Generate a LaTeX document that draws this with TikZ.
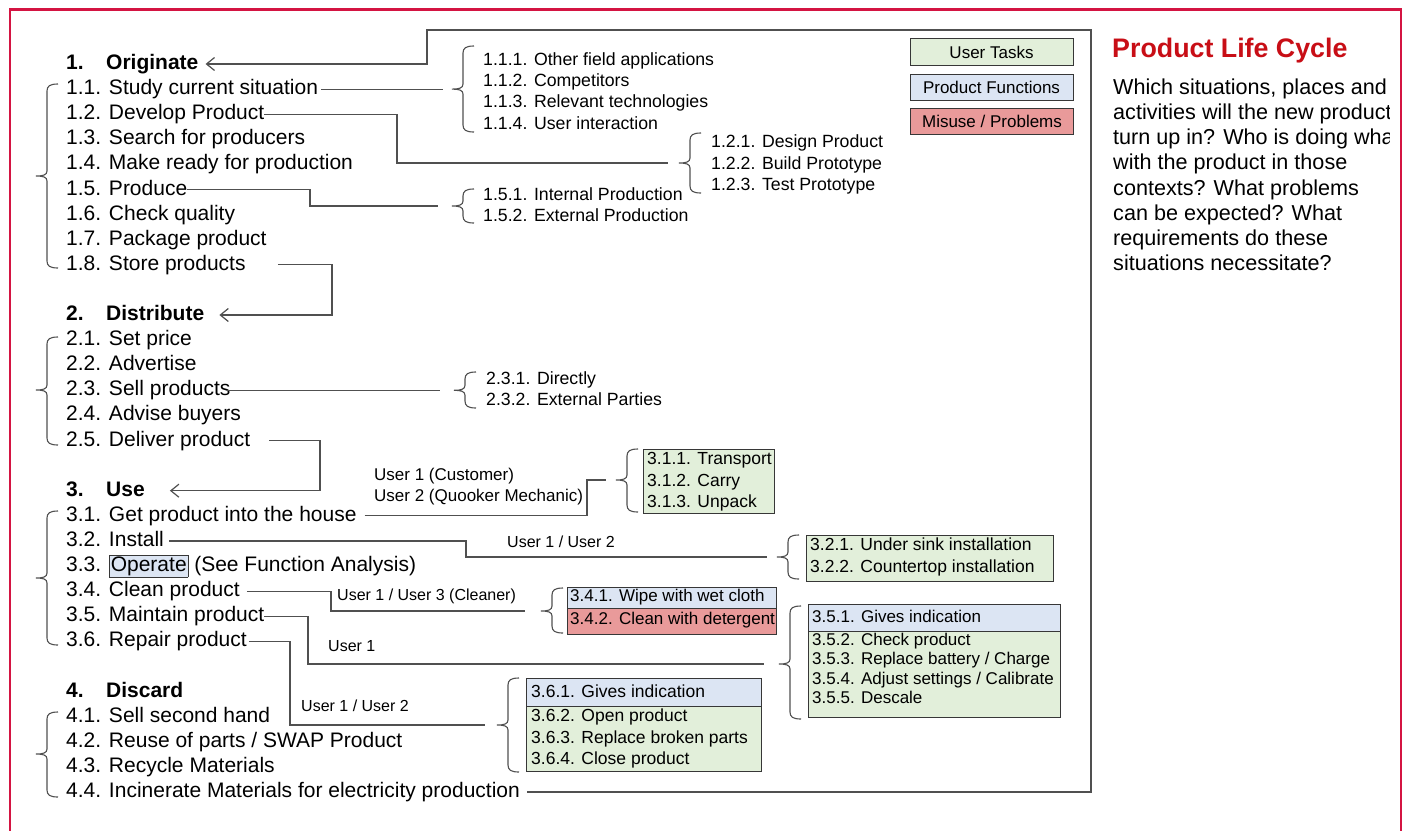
\documentclass[tikz,border=0pt]{standalone}
\usepackage{fontspec}
\setmainfont{Liberation Sans}
\usetikzlibrary{arrows.meta}
\definecolor{framered}{RGB}{212,20,66}
\definecolor{titlered}{RGB}{200,14,22}
\definecolor{gfill}{HTML}{E2EFDA}
\definecolor{bfill}{HTML}{DCE5F3}
\definecolor{rfill}{HTML}{E99A9A}
\definecolor{lncol}{RGB}{80,80,80}
\definecolor{bxcol}{RGB}{55,55,55}
\setlength\fboxsep{1pt}
\setlength\fboxrule{0.8pt}
\newcommand\mybrace[4]{\draw[brc] (#1+11,#2) .. controls (#1+3,#2) and (#1,#2+2) .. (#1,#2+7) -- (#1,#4-5) .. controls (#1,#4-1) and (#1-4,#4) .. (#1-11,#4) .. controls (#1-4,#4) and (#1,#4+1) .. (#1,#4+5) -- (#1,#3-7) .. controls (#1,#3-2) and (#1+3,#3) .. (#1+11,#3);}
\begin{document}
\begin{tikzpicture}[x=1pt,y=-1pt,
 item/.style={anchor=west, inner sep=0pt, font=\fontsize{21}{25}\selectfont, text height=15pt, text depth=4pt},
 headitem/.style={item, font=\fontsize{21}{25}\selectfont\bfseries},
 paraitem/.style={item, font=\fontsize{21.6}{25}\selectfont},
 subitem/.style={anchor=west, inner sep=0pt, font=\fontsize{17.7}{21}\selectfont, text height=12.7pt, text depth=3.5pt},
 boxitem/.style={subitem, font=\fontsize{17.5}{21}\selectfont},
 smallitem/.style={subitem, font=\fontsize{17}{20}\selectfont, text height=12.2pt, text depth=3.3pt},
 userlbl/.style={subitem, font=\fontsize{16}{19}\selectfont, text height=11.5pt, text depth=3.2pt},
 conn/.style={draw=lncol, line width=1.2pt},
 arr/.style={conn, -{Straight Barb[length=8pt,width=13pt]}},
 brc/.style={draw=lncol, line width=1.1pt},
 panel/.style={draw=bxcol, line width=1pt, anchor=north west, inner sep=0pt},
 gpanel/.style={panel, fill=gfill},
 bpanel/.style={panel, fill=bfill},
 rpanel/.style={panel, fill=rfill},
 legend/.style={draw=bxcol, line width=1pt, inner sep=0pt, minimum width=163pt, minimum height=26.5pt, font=\fontsize{17}{20}\selectfont}
]
\useasboundingbox (0,0) rectangle (1407,830);
\fill[white] (0,0) rectangle (1407,830);

% outer frame
\draw[framered, line width=2.6pt] (10,845) -- (10,9.5) -- (1401,9.5) -- (1401,845);

% legend
\node[legend, fill=gfill] (leg1) at (991.5,52) {User Tasks};
\node[legend, fill=bfill] (leg2) at (991.5,87.5) {Product Functions};
\node[legend, fill=rfill] (leg3) at (992,121.5) {Misuse / Problems};

% title and paragraph
\node[anchor=base west, inner sep=0pt, font=\fontsize{26.8}{30}\selectfont\bfseries, text=titlered] (title) at (1112,57) {Product Life Cycle};
\begin{scope}
\clip (1100,70) rectangle (1389,290);
\node[paraitem] (p1) at (1113,89.1) {Which situations, places and};
\node[paraitem] (p2) at (1113,114.2) {activities will the new product};
\node[paraitem] (p3) at (1113,139.3) {turn up in? Who is doing what};
\node[paraitem] (p4) at (1113,164.4) {with the product in those};
\node[paraitem] (p5) at (1113,189.5) {contexts? What problems};
\node[paraitem] (p6) at (1113,214.6) {can be expected? What};
\node[paraitem] (p7) at (1113,239.7) {requirements do these};
\node[paraitem] (p8) at (1113,264.8) {situations necessitate?};
\end{scope}

% main list
\node[headitem] (h1) at (66,64) {\makebox[40pt][l]{1.}Originate};
\node[item] (n11) at (66,89.1) {1.1. Study current situation};
\node[item] (n12) at (66,114.2) {1.2. Develop Product};
\node[item] (n13) at (66,139.3) {1.3. Search for producers};
\node[item] (n14) at (66,164.4) {1.4. Make ready for production};
\node[item] (n15) at (66,189.5) {1.5. Produce};
\node[item] (n16) at (66,214.6) {1.6. Check quality};
\node[item] (n17) at (66,239.7) {1.7. Package product};
\node[item] (n18) at (66,264.8) {1.8. Store products};
\node[headitem] (h2) at (66,315) {\makebox[40pt][l]{2.}Distribute};
\node[item] (n21) at (66,340.1) {2.1. Set price};
\node[item] (n22) at (66,365.2) {2.2. Advertise};
\node[item] (n23) at (66,390.3) {2.3. Sell products};
\node[item] (n24) at (66,415.4) {2.4. Advise buyers};
\node[item] (n25) at (66,440.5) {2.5. Deliver product};
\node[headitem] (h3) at (66,490.7) {\makebox[40pt][l]{3.}Use};
\node[item] (n31) at (66,515.8) {3.1. Get product into the house};
\node[item] (n32) at (66,540.9) {3.2. Install};
\node[item] (n33) at (66,566) {3.3. \fcolorbox{bxcol}{bfill}{Operate} (See Function Analysis)};
\node[item] (n34) at (66,591.1) {3.4. Clean product};
\node[item] (n35) at (66,616.2) {3.5. Maintain product};
\node[item] (n36) at (66,641.3) {3.6. Repair product};
\node[headitem] (h4) at (66,691.5) {\makebox[40pt][l]{4.}Discard};
\node[item] (n41) at (66,716.6) {4.1. Sell second hand};
\node[item] (n42) at (66,741.7) {4.2. Reuse of parts / SWAP Product};
\node[item] (n43) at (66,766.8) {4.3. Recycle Materials};
\node[item] (n44) at (66,791.9) {4.4. Incinerate Materials for electricity production};

% section braces
\mybrace{47}{84}{268}{176}
\mybrace{47}{337}{445}{390}
\mybrace{47}{511}{645}{578}
\mybrace{47}{712}{797}{754}

% sub items
\node[subitem] (s111) at (483,60.5) {1.1.1. Other field applications};
\node[subitem] (s112) at (483,81.8) {1.1.2. Competitors};
\node[subitem] (s113) at (483,103.1) {1.1.3. Relevant technologies};
\node[subitem] (s114) at (483,124.4) {1.1.4. User interaction};
\node[subitem] (s121) at (711,143) {1.2.1. Design Product};
\node[subitem] (s122) at (711,164.5) {1.2.2. Build Prototype};
\node[subitem] (s123) at (711,186) {1.2.3. Test Prototype};
\node[subitem] (s151) at (483,196) {1.5.1. Internal Production};
\node[subitem] (s152) at (483,217) {1.5.2. External Production};
\node[subitem] (s231) at (486,380) {2.3.1. Directly};
\node[subitem] (s232) at (486,401) {2.3.2. External Parties};

% boxes
\node[gpanel, minimum width=131pt, minimum height=64pt] (box31) at (643,449) {};
\node[gpanel, minimum width=247pt, minimum height=46pt] (box32) at (806,535) {};
\node[bpanel, minimum width=209pt, minimum height=21pt] (box341) at (567,587) {};
\node[rpanel, minimum width=209pt, minimum height=26pt] (box342) at (567,608) {};
\node[gpanel, minimum width=252pt, minimum height=86pt] (box35b) at (808,631) {};
\node[bpanel, minimum width=252pt, minimum height=27pt] (box35h) at (808,604) {};
\node[gpanel, minimum width=235pt, minimum height=65pt] (box36b) at (526,706) {};
\node[bpanel, minimum width=235pt, minimum height=28pt] (box36h) at (526,678) {};

\node[boxitem] (t311) at (647,460) {3.1.1. Transport};
\node[boxitem] (t312) at (647,481.5) {3.1.2. Carry};
\node[boxitem] (t313) at (647,503) {3.1.3. Unpack};
\node[boxitem] (t321) at (810,546) {3.2.1. Under sink installation};
\node[boxitem] (t322) at (810,568) {3.2.2. Countertop installation};
\node[smallitem] (t341) at (570,597) {3.4.1. Wipe with wet cloth};
\node[smallitem] (t342) at (570,620) {3.4.2. Clean with detergent};
\node[smallitem] (t351) at (812,618.5) {3.5.1. Gives indication};
\node[smallitem] (t352) at (812,641) {3.5.2. Check product};
\node[smallitem] (t353) at (812,660.5) {3.5.3. Replace battery / Charge};
\node[smallitem] (t354) at (812,680) {3.5.4. Adjust settings / Calibrate};
\node[smallitem] (t355) at (812,699.5) {3.5.5. Descale};
\node[boxitem] (t361) at (531,693) {3.6.1. Gives indication};
\node[boxitem] (t362) at (531,717) {3.6.2. Open product};
\node[boxitem] (t363) at (531,738.5) {3.6.3. Replace broken parts};
\node[boxitem] (t364) at (531,760) {3.6.4. Close product};

% user labels
\node[userlbl, font=\fontsize{17}{20}\selectfont] (l31a) at (374,476.5) {User 1 (Customer)};
\node[userlbl, font=\fontsize{17}{20}\selectfont] (l31b) at (374,497.3) {User 2 (Quooker Mechanic)};
\node[userlbl] (l32) at (507,543) {User 1 / User 2};
\node[userlbl] (l34) at (337,596) {User 1 / User 3 (Cleaner)};
\node[userlbl] (l35) at (328,647) {User 1};
\node[userlbl] (l36) at (301,707) {User 1 / User 2};

% sub braces and tip coordinates
\mybrace{463}{46}{132}{89.1}
\mybrace{690}{133}{193}{163}
\mybrace{463}{189}{223}{206}
\mybrace{465}{372}{408}{390.3}
\mybrace{627}{449}{512}{480}
\mybrace{788}{535}{579}{557}
\mybrace{552}{588}{633}{611}
\mybrace{790}{606}{719}{664}
\mybrace{508}{678}{772}{725}
\coordinate (bt11) at (452,89.1);
\coordinate (bt12) at (679,163);
\coordinate (bt15) at (452,206);
\coordinate (bt23) at (454,390.3);
\coordinate (bt31) at (616,480);
\coordinate (bt32) at (777,557);
\coordinate (bt34) at (541,611);
\coordinate (bt35) at (779,664);
\coordinate (bt36) at (497,725);

% connectors
\draw[conn] ([xshift=3pt]n11.east) -- ([xshift=-9pt]bt11);
\draw[conn] (n12.east) -| (397,163) -- ([xshift=-11pt]bt12);
\draw[conn] (n15.east) -| (310,206) -- ([xshift=-14pt]bt15);
\draw[arr] ([xshift=32pt]n18.east) -| (332,315) -- ([xshift=15pt]h2.east);
\draw[conn] ([xshift=-4pt]n23.east) -- ([xshift=-14pt]bt23);
\draw[arr] ([xshift=19pt]n25.east) -| (320,490.7) -- ([xshift=25pt]h3.east);
\draw[conn] ([xshift=8pt]n31.east) -| (587,480) -- ([xshift=-10pt]bt31);
\draw[conn] ([xshift=5pt]n32.east) -| (466,557) -- ([xshift=-10pt]bt32);
\draw[conn] ([xshift=7pt]n34.east) -| (331,611) -- ([xshift=-16pt]bt34);
\draw[conn] (n35.east) -| (308,664) -- ([xshift=-15pt]bt35);
\draw[conn] ([xshift=2pt]n36.east) -| (290,725) -- ([xshift=-12pt]bt36);
\draw[arr] ([xshift=7pt]n44.east) -| (1091,30) -| (427,64) -- ([xshift=7pt]h1.east);
\end{tikzpicture}
\end{document}
